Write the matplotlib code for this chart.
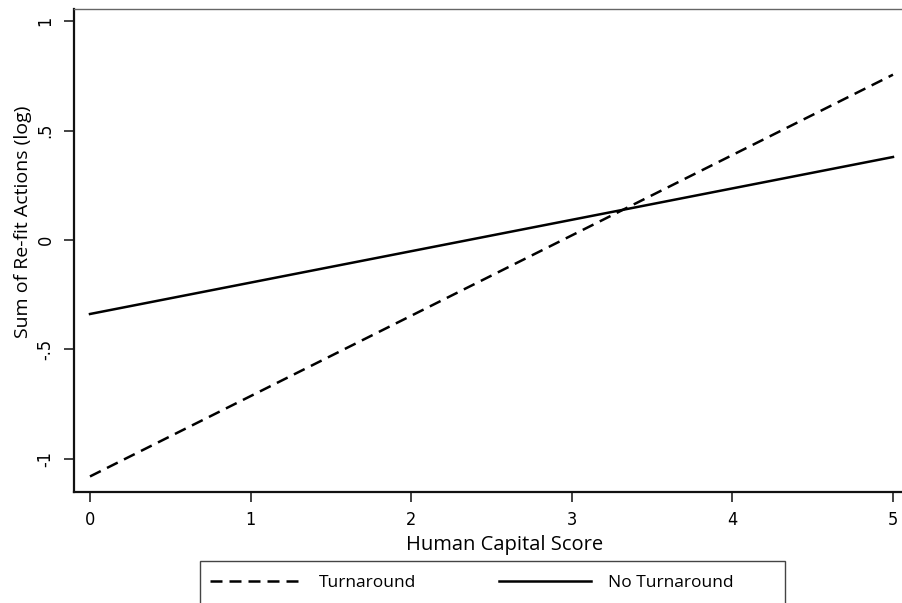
import matplotlib
matplotlib.use("Agg")
import matplotlib.pyplot as plt
from matplotlib.patches import Rectangle

# Datos: rectas predichas (Human Capital Score vs. re-fit actions)
hc_score = [0, 5]
turnaround = [-1.08, 0.755]
no_turnaround = [-0.338, 0.379]

x_ticks = [0, 1, 2, 3, 4, 5]
y_ticks = [1, 0.5, 0, -0.5, -1]
y_ticklabels = ["1", ".5", "0", "-.5", "-1"]

label_font = ["Open Sans", "DejaVu Sans"]
tick_font = ["DejaVu Sans"]

W, H = 903, 603
fig = plt.figure(figsize=(W / 100, H / 100), dpi=100)
ax = fig.add_axes([74 / W, (H - 492) / H, (910 - 74) / W, (492 - 9) / H])

ax.plot(hc_score, turnaround, color="black", lw=1.8, dashes=(4.8, 2.8),
        label="Turnaround")
ax.plot(hc_score, no_turnaround, color="black", lw=1.8, label="No Turnaround")

ax.set_xlim(-0.0996, 5.106)
ax.set_ylim(-1.151, 1.055)

ax.set_xticks(x_ticks)
ax.set_xticklabels([str(t) for t in x_ticks], family=tick_font, fontsize=13,
                   fontstretch="condensed")
ax.set_yticks(y_ticks)
ax.set_yticklabels(y_ticklabels, family=tick_font, fontsize=13,
                   fontstretch="condensed", rotation=90, va="center")
ax.tick_params(direction="out", length=7, width=1.2, pad=7, color="#222222")

for s in ["left", "bottom"]:
    ax.spines[s].set_linewidth(1.6)
    ax.spines[s].set_color("#111111")
ax.spines["top"].set_linewidth(1.0)
ax.spines["top"].set_color("#666666")
ax.spines["right"].set_visible(False)

ax.set_xlabel("Human Capital Score", family=label_font, fontsize=14.5)
ax.xaxis.set_label_coords((505 - 74) / (910 - 74), (492 - 545) / (492 - 9))
ax.xaxis.label.set_verticalalignment("center")
ax.set_ylabel("Sum of Re-fit Actions (log)", family=label_font, fontsize=14)
ax.yaxis.set_label_coords((23 - 74) / (910 - 74), (492 - 222) / (492 - 9))
ax.yaxis.label.set_verticalalignment("center")

# caja de la leyenda (cortada abajo como en el original)
fig.patches.append(Rectangle((200 / W, -0.05), (785 - 200) / W, (H - 561) / H + 0.05,
                             transform=fig.transFigure, fill=False,
                             edgecolor="#444444", lw=1.0))
handles, labels = ax.get_legend_handles_labels()
fig.legend(handles, labels, ncol=2, frameon=False, loc="center left",
           bbox_to_anchor=(196 / W, (H - 583) / H), borderpad=0.3,
           handlelength=5.3, handletextpad=0.97, columnspacing=4.8,
           prop={"family": label_font, "size": 12.5})

fig.savefig("out.png", dpi=100)
